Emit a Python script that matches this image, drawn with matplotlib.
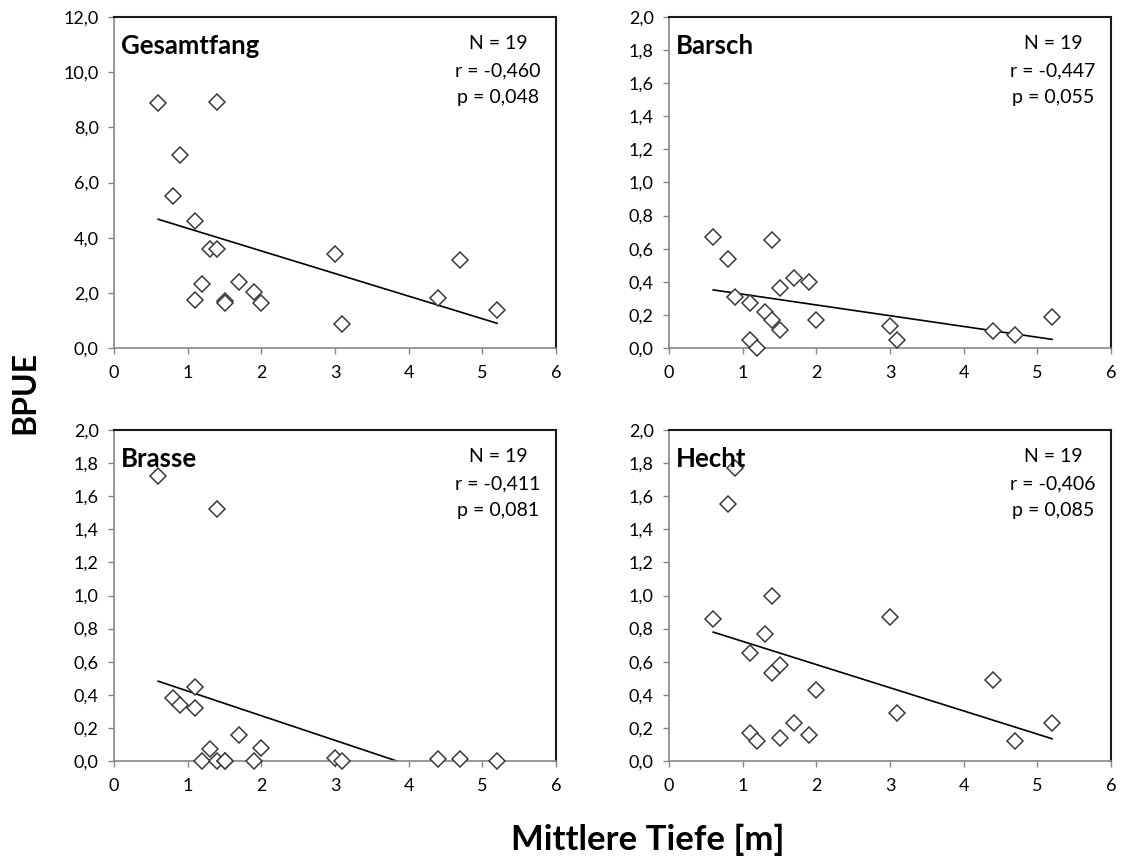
import numpy as np
import matplotlib
matplotlib.use("Agg")
import matplotlib.pyplot as plt
from matplotlib.ticker import FuncFormatter, MultipleLocator

plt.rcParams['font.family'] = ['Lato', 'DejaVu Sans']

# mittlere Tiefe der 19 Seen [m]
tiefe = [0.6, 0.8, 0.9, 1.1, 1.1, 1.2, 1.3, 1.4, 1.4, 1.5,
         1.5, 1.7, 1.9, 2.0, 3.0, 3.1, 4.4, 4.7, 5.2]

# BPUE je See
gesamtfang = [8.9, 5.5, 7.0, 4.6, 1.75, 2.33, 3.59, 8.92, 3.59, 1.72,
              1.62, 2.39, 2.02, 1.62, 3.40, 0.86, 1.81, 3.2, 1.38]
barsch = [0.67, 0.54, 0.31, 0.27, 0.05, 0.0, 0.22, 0.65, 0.17, 0.36,
          0.11, 0.42, 0.40, 0.17, 0.13, 0.05, 0.10, 0.08, 0.19]
brasse = [1.72, 0.38, 0.34, 0.45, 0.32, 0.0, 0.07, 1.52, 0.0, 0.0,
          0.0, 0.16, 0.0, 0.08, 0.02, 0.0, 0.01, 0.01, 0.0]
hecht = [0.86, 1.55, 1.77, 0.65, 0.17, 0.12, 0.77, 1.0, 0.53, 0.58,
         0.14, 0.23, 0.16, 0.43, 0.87, 0.29, 0.49, 0.12, 0.23]

titel = ['Gesamtfang', 'Barsch', 'Brasse', 'Hecht']
werte = [gesamtfang, barsch, brasse, hecht]
r_werte = ['-0,460', '-0,447', '-0,411', '-0,406']
p_werte = ['0,048', '0,055', '0,081', '0,085']
y_max = [12.0, 2.0, 2.0, 2.0]
y_schritt = [2.0, 0.2, 0.2, 0.2]

W, H = 1123, 861
fig = plt.figure(figsize=(W / 100, H / 100), dpi=100)

# Achsenrahmen in Pixeln: links, oben, rechts, unten
boxen = [(114, 17, 556, 348), (669, 17, 1111, 348),
         (114, 430, 556, 761), (669, 430, 1111, 761)]

komma = FuncFormatter(lambda v, pos: ('%.1f' % v).replace('.', ','))

for i, (l, o, r, u) in enumerate(boxen):
    ax = fig.add_axes([l / W, 1 - u / H, (r - l) / W, (u - o) / H])
    x = np.array(tiefe)
    y = np.array(werte[i])
    ax.plot(x, y, linestyle='none', marker='D', markersize=7.8,
            markerfacecolor='white', markeredgecolor='#3a3a3a',
            markeredgewidth=1.1, zorder=3, clip_on=False)
    # lineare Trendlinie
    m, b = np.polyfit(x, y, 1)
    xs = np.array([x.min(), x.max()])
    ax.plot(xs, m * xs + b, color='black', lw=1.2, zorder=2)

    ax.set_xlim(0, 6)
    ax.set_ylim(0, y_max[i])
    ax.xaxis.set_major_locator(MultipleLocator(1))
    ax.yaxis.set_major_locator(MultipleLocator(y_schritt[i]))
    ax.yaxis.set_major_formatter(komma)
    ax.tick_params(direction='out', length=4, width=1, color='#868686',
                   labelsize=13, labelcolor='black')
    ax.tick_params(axis='x', pad=8)
    ax.tick_params(axis='y', pad=7)

    for s in ['left', 'bottom']:
        ax.spines[s].set_color('#868686')
        ax.spines[s].set_linewidth(1.2)
    for s in ['top', 'right']:
        ax.spines[s].set_color('#1a1a1a')
        ax.spines[s].set_linewidth(1.5)

    ax.text(0.016, 0.912, titel[i], transform=ax.transAxes, fontsize=18.5,
            fontweight='bold', ha='left', va='center')
    stats = 'N = 19\nr = %s\np = %s' % (r_werte[i], p_werte[i])
    ax.text(0.869, 0.838, stats, transform=ax.transAxes, fontsize=14,
            ha='center', va='center', linespacing=1.7)

fig.text(25 / W, 1 - 392 / H, 'BPUE', rotation=90, fontsize=23,
         fontweight='bold', ha='center', va='center')
fig.text(648 / W, 1 - 840 / H, 'Mittlere Tiefe [m]', fontsize=25,
         fontweight='bold', ha='center', va='center')

fig.savefig('out.png', dpi=100)
